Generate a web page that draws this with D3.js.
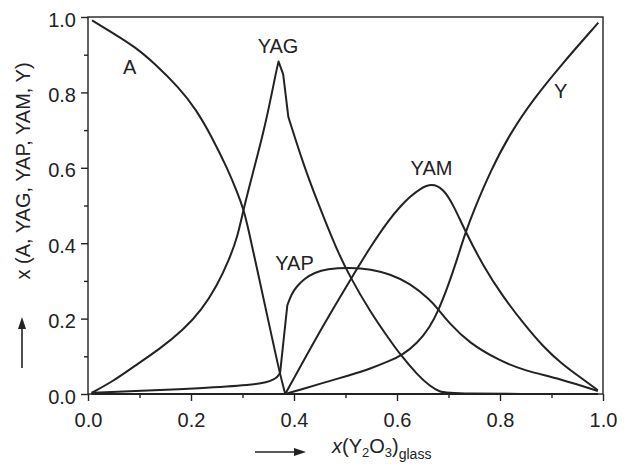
<!DOCTYPE html>
<html>
<head>
<meta charset="utf-8">
<script src="https://cdn.jsdelivr.net/npm/d3@7"></script>
<style>
  html, body { margin: 0; padding: 0; background: #fff; }
  svg { display: block; }
  text { font-family: "Liberation Sans", Arial, Helvetica, sans-serif; fill: #222; }
</style>
</head>
<body>
<svg id="chart" width="629" height="466"></svg>
<script>
// ---------- data ----------
const majorTicks = [0.0, 0.2, 0.4, 0.6, 0.8, 1.0];
const minorTicks = [0.1, 0.3, 0.5, 0.7, 0.9];

const aX = [0.008, 0.05, 0.091, 0.13, 0.175, 0.21, 0.24, 0.27, 0.29, 0.302, 0.311, 0.331, 0.347, 0.362, 0.373, 0.383, 0.99];
const aY = [0.991, 0.956, 0.921, 0.876, 0.815, 0.755, 0.683, 0.60, 0.535, 0.49, 0.44, 0.315, 0.214, 0.12, 0.052, 0.0, 0.0];
const aCorners = [0.383];

const yagX = [0.007, 0.05, 0.088, 0.14, 0.185, 0.22, 0.25, 0.275, 0.29, 0.302, 0.318, 0.344, 0.366, 0.370, 0.379, 0.389, 0.418, 0.444, 0.483, 0.509, 0.548, 0.586, 0.606, 0.64, 0.665, 0.683, 0.70, 0.99];
const yagY = [0.003, 0.035, 0.072, 0.12, 0.170, 0.222, 0.285, 0.36, 0.415, 0.49, 0.576, 0.709, 0.86, 0.882, 0.848, 0.735, 0.61, 0.515, 0.382, 0.31, 0.218, 0.143, 0.105, 0.05, 0.02, 0.006, 0.0, 0.0];
const yagCorners = [0.370, 0.379, 0.389];

const yapX = [0.007, 0.1, 0.217, 0.321, 0.347, 0.36, 0.368, 0.373, 0.387, 0.395, 0.405, 0.42, 0.44, 0.463, 0.509, 0.55, 0.586, 0.625, 0.664, 0.68, 0.70, 0.74, 0.80, 0.845, 0.917, 0.99];
const yapY = [0.003, 0.008, 0.015, 0.024, 0.031, 0.038, 0.045, 0.056, 0.235, 0.265, 0.285, 0.306, 0.322, 0.332, 0.336, 0.331, 0.318, 0.294, 0.25, 0.225, 0.19, 0.135, 0.088, 0.063, 0.040, 0.008];
const yapCorners = [0.373, 0.387];

const yamX = [0.007, 0.383, 0.412, 0.46, 0.509, 0.548, 0.586, 0.606, 0.625, 0.645, 0.667, 0.69, 0.71, 0.732, 0.768, 0.806, 0.845, 0.884, 0.92, 0.955, 0.99];
const yamY = [0.0, 0.0, 0.072, 0.19, 0.302, 0.39, 0.465, 0.497, 0.523, 0.545, 0.559, 0.545, 0.50, 0.433, 0.338, 0.258, 0.188, 0.125, 0.08, 0.045, 0.01];
const yamCorners = [0.383];

const yX = [0.007, 0.383, 0.412, 0.45, 0.509, 0.55, 0.586, 0.609, 0.64, 0.664, 0.68, 0.70, 0.715, 0.732, 0.75, 0.781, 0.819, 0.865, 0.917, 0.991];
const yY = [0.0, 0.0, 0.011, 0.027, 0.05, 0.068, 0.088, 0.102, 0.135, 0.178, 0.22, 0.29, 0.35, 0.425, 0.49, 0.59, 0.69, 0.782, 0.87, 0.985];
const yCorners = [0.383];

const seriesNames = ["A", "YAG", "YAP", "YAM", "Y"];
const seriesX = [aX, yagX, yapX, yamX, yX];
const seriesY = [aY, yagY, yapY, yamY, yY];
const seriesCorners = [aCorners, yagCorners, yapCorners, yamCorners, yCorners];
// label anchor (data coords)
const labelX = [0.081, 0.369, 0.401, 0.667, 0.918];
const labelY = [0.849, 0.904, 0.329, 0.581, 0.785];

// ---------- layout ----------
const svg = d3.select("#chart");
const L = 88, R = 603, T = 17, B = 394;
const x = d3.scaleLinear().domain([0, 1]).range([L, R]);
const y = d3.scaleLinear().domain([0, 1]).range([B, T]);
const ink = "#222";
const fmt = d3.format(".1f");

// minor ticks
svg.append("g").attr("transform", `translate(${L},0)`)
  .call(d3.axisLeft(y).tickValues(minorTicks).tickSize(4).tickFormat(""))
  .call(g => g.select(".domain").remove());
svg.append("g").attr("transform", `translate(0,${B})`)
  .call(d3.axisBottom(x).tickValues(minorTicks).tickSize(4).tickFormat(""))
  .call(g => g.select(".domain").remove());

// major ticks
const gy = svg.append("g").attr("transform", `translate(${L},0)`)
  .call(d3.axisLeft(y).tickValues(majorTicks).tickSize(7).tickPadding(5).tickFormat(fmt));
gy.select(".domain").remove();
gy.selectAll("text").attr("dy", "0.45em");

const gx = svg.append("g").attr("transform", `translate(0,${B})`)
  .call(d3.axisBottom(x).tickValues(majorTicks).tickSize(7).tickPadding(12).tickFormat(fmt));
gx.select(".domain").remove();

svg.selectAll(".tick line").attr("stroke", ink).attr("stroke-width", 1.4);
svg.selectAll(".tick text").attr("font-size", 20).attr("fill", ink)
  .style("font-family", '"Liberation Sans", Arial, sans-serif');

// frame
svg.append("rect")
  .attr("x", L).attr("y", T).attr("width", R - L).attr("height", B - T)
  .attr("fill", "none").attr("stroke", ink).attr("stroke-width", 1.4);

// curves: smooth B-spline, corner points repeated so the curve passes sharply through them
const line = d3.line().curve(d3.curveBasis).x(d => x(d[0])).y(d => y(d[1]));
seriesNames.forEach((n, i) => {
  const pts = [];
  seriesX[i].forEach((v, j) => {
    const p = [v, seriesY[i][j]];
    const reps = seriesCorners[i].includes(v) ? 3 : 1;
    for (let k = 0; k < reps; k++) pts.push(p);
  });
  svg.append("path").datum(pts)
    .attr("d", line)
    .attr("fill", "none")
    .attr("stroke", ink)
    .attr("stroke-width", 2)
    .attr("stroke-linejoin", "round");
});

// curve labels
seriesNames.forEach((n, i) => {
  svg.append("text")
    .attr("x", x(labelX[i])).attr("y", y(labelY[i]))
    .attr("text-anchor", "middle")
    .attr("font-size", 20)
    .text(n);
});

// y axis title
svg.append("text")
  .attr("transform", "translate(30,171) rotate(-90)")
  .attr("text-anchor", "middle")
  .attr("font-size", 20)
  .text("x (A, YAG, YAP, YAM, Y)");

// y arrow
svg.append("line").attr("x1", 22).attr("x2", 22).attr("y1", 368).attr("y2", 326)
  .attr("stroke", ink).attr("stroke-width", 1.6);
svg.append("path").attr("d", "M22,317 L18,329 L26,329 Z").attr("fill", ink);

// x arrow
svg.append("line").attr("x1", 255).attr("x2", 296).attr("y1", 452).attr("y2", 452)
  .attr("stroke", ink).attr("stroke-width", 1.6);
svg.append("path").attr("d", "M306,452 L294,448 L294,456 Z").attr("fill", ink);

// x axis title: x(Y2O3)glass
const xt = svg.append("text").attr("x", 332).attr("y", 453).attr("font-size", 20);
xt.append("tspan").attr("font-style", "italic").text("x");
xt.append("tspan").text("(Y");
xt.append("tspan").attr("font-size", 13).attr("dy", 4).text("2");
xt.append("tspan").attr("dy", -4).text("O");
xt.append("tspan").attr("font-size", 13).attr("dy", 4).text("3");
xt.append("tspan").attr("dy", -4).text(")");
xt.append("tspan").attr("font-size", 14).attr("dy", 6).text("glass");
</script>
</body>
</html>
